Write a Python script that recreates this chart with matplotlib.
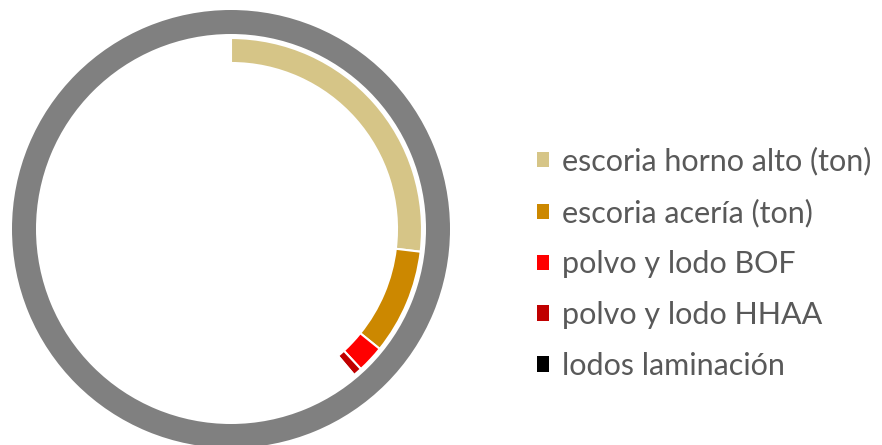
import matplotlib.pyplot as plt

# data (share of total)
labels = ['escoria horno alto (ton)', 'escoria acería (ton)', 'polvo y lodo BOF',
          'polvo y lodo HHAA', 'lodos laminación']
values = [26.9, 8.9, 2.3, 0.75, 0.15]
colors = ['#D6C587', '#CC8800', '#FF0000', '#C00000', '#000000']
total = [100]

W, H = 882, 445
fig = plt.figure(figsize=(W / 100, H / 100), dpi=100)

# pie axes: centre (231, 229) px, outer radius 219 px
cx, cy, R = 231, 229, 219
ax = fig.add_axes([(cx - R) / W, (H - cy - R) / H, 2 * R / W, 2 * R / H])
ax.axis('off')

# outer grey ring
ax.pie(total, colors=['#808080'], radius=1, startangle=90,
       wedgeprops=dict(width=24 / R, linewidth=0))

# inner ring, rest of the circle left empty
rest = 100 - sum(values)
wedges, _ = ax.pie(values + [rest], colors=colors + ['none'], radius=191 / R,
                   startangle=90, counterclock=False,
                   wedgeprops=dict(width=25 / R, edgecolor='white', linewidth=1.5))
wedges[-1].set_edgecolor('none')
ax.set_xlim(-1, 1)
ax.set_ylim(-1, 1)

fs = 22
leg = fig.legend(wedges[:5], labels, loc='center left',
                 bbox_to_anchor=(537 / W, 1 - 263.5 / H), frameon=False,
                 labelcolor='#595959', handlelength=0.4,
                 handleheight=0.4, handletextpad=0.43, labelspacing=0.75,
                 borderpad=0, borderaxespad=0,
                 prop={'family': 'Lato', 'size': fs})
for h in leg.legend_handles:
    h.set_edgecolor('none')

fig.savefig('out.png', dpi=100)
